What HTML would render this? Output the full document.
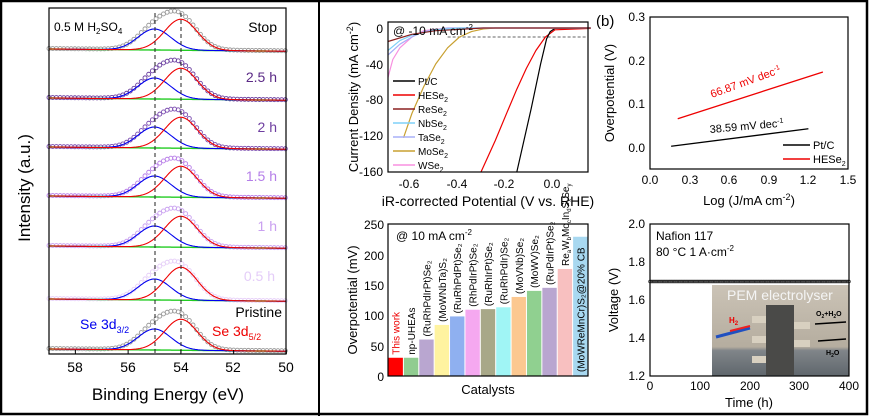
<!DOCTYPE html>
<html><head><meta charset="utf-8"><style>
html,body{margin:0;padding:0;background:#fff}
svg{display:block;font-family:"Liberation Sans",Arial,sans-serif}
</style></head><body>
<svg id="s" width="869" height="416" viewBox="0 0 869 416" xmlns="http://www.w3.org/2000/svg">
<rect x="1" y="1" width="866" height="413" fill="#fff" stroke="#000" stroke-width="2.5"/>
<line x1="319" y1="0" x2="319" y2="416" stroke="#000" stroke-width="2"/>

<g id="pa"></g>
<rect x="49" y="8" width="237" height="346" fill="none" stroke="#000" stroke-width="1.2"/>
<g font-size="13" fill="#000">
<text x="54" y="31" font-size="12">0.5 M H<tspan font-size="8" dy="3">2</tspan><tspan dy="-3">SO</tspan><tspan font-size="8" dy="3">4</tspan></text>
<text x="277" y="32" text-anchor="end" font-size="14">Stop</text>
<text x="277" y="82" text-anchor="end" font-size="14" fill="#5b2a86">2.5 h</text>
<text x="277" y="132" text-anchor="end" font-size="14" fill="#6e3ea0">2 h</text>
<text x="277" y="181" text-anchor="end" font-size="14" fill="#b47ee8">1.5 h</text>
<text x="277" y="231" text-anchor="end" font-size="14" fill="#c9a0f0">1 h</text>
<text x="275" y="281" text-anchor="end" font-size="14" fill="#e4cdf8">0.5 h</text>
<text x="282" y="317" text-anchor="end" font-size="14">Pristine</text>
<text x="80" y="329" font-size="14" fill="#0000ee">Se 3d<tspan font-size="9" dy="4">3/2</tspan></text>
<text x="212" y="336" font-size="14" fill="#ee0000">Se 3d<tspan font-size="9" dy="4">5/2</tspan></text>
<text x="75" y="372" text-anchor="middle" font-size="14">58</text>
<text x="128" y="372" text-anchor="middle" font-size="14">56</text>
<text x="181" y="372" text-anchor="middle" font-size="14">54</text>
<text x="233" y="372" text-anchor="middle" font-size="14">52</text>
<text x="286" y="372" text-anchor="middle" font-size="14">50</text>
<text x="168" y="400" text-anchor="middle" font-size="17">Binding Energy (eV)</text>
<text transform="translate(30,188) rotate(-90)" text-anchor="middle" font-size="17">Intensity (a.u.)</text>
</g>

<g id="pb"></g>
<rect x="388" y="22" width="200" height="150" fill="none" stroke="#000" stroke-width="1.2"/>
<g font-size="12" fill="#000">
<text x="393" y="35" font-size="12">@ -10 mA cm<tspan font-size="8" dy="-5">-2</tspan></text>
<text x="383" y="33" text-anchor="end">0</text>
<text x="383" y="69" text-anchor="end">-40</text>
<text x="383" y="104" text-anchor="end">-80</text>
<text x="383" y="140" text-anchor="end">-120</text>
<text x="383" y="176" text-anchor="end">-160</text>
<text x="409" y="188" text-anchor="middle">-0.6</text>
<text x="457" y="188" text-anchor="middle">-0.4</text>
<text x="504" y="188" text-anchor="middle">-0.2</text>
<text x="552" y="188" text-anchor="middle">0.0</text>
<text x="488" y="206" text-anchor="middle" font-size="14">iR-corrected Potential (V vs. RHE)</text>
<text transform="translate(358,97) rotate(-90)" text-anchor="middle" font-size="13">Current Density (mA cm<tspan font-size="9" dy="-5">-2</tspan><tspan dy="5">)</tspan></text>
<g font-size="10">
<text x="418" y="85">Pt/C</text>
<text x="418" y="99">HESe<tspan font-size="7" dy="3">2</tspan></text>
<text x="418" y="113">ReSe<tspan font-size="7" dy="3">2</tspan></text>
<text x="418" y="127">NbSe<tspan font-size="7" dy="3">2</tspan></text>
<text x="418" y="141">TaSe<tspan font-size="7" dy="3">2</tspan></text>
<text x="418" y="155">MoSe<tspan font-size="7" dy="3">2</tspan></text>
<text x="418" y="169">WSe<tspan font-size="7" dy="3">2</tspan></text>
</g>
</g>

<g id="pc"></g>
<rect x="388" y="224" width="200" height="152" fill="none" stroke="#000" stroke-width="1.2"/>
<g font-size="12" fill="#000">
<text x="396" y="240">@ 10 mA cm<tspan font-size="8" dy="-5">-2</tspan></text>
<text x="384" y="229" text-anchor="end">250</text>
<text x="384" y="260" text-anchor="end">200</text>
<text x="384" y="290" text-anchor="end">150</text>
<text x="384" y="320" text-anchor="end">100</text>
<text x="384" y="351" text-anchor="end">50</text>
<text x="384" y="381" text-anchor="end">0</text>
<text x="488" y="394" text-anchor="middle" font-size="13">Catalysts</text>
<text transform="translate(357,300) rotate(-90)" text-anchor="middle" font-size="13">Overpotential (mV)</text>
<g id="bl" font-size="10"></g>
<text id="relab" font-size="10">Re<tspan font-size="6" dy="2">a</tspan><tspan dy="-2">W</tspan><tspan font-size="6" dy="2">b</tspan><tspan dy="-2">Mo</tspan><tspan font-size="6" dy="2">c</tspan><tspan dy="-2">In</tspan><tspan font-size="6" dy="2">d</tspan><tspan dy="-2">S</tspan><tspan font-size="6" dy="2">x</tspan><tspan dy="-2">Se</tspan><tspan font-size="6" dy="2">y</tspan></text>
</g>

<rect x="650" y="17" width="198" height="152" fill="none" stroke="#000" stroke-width="1.2"/>
<g id="pd"></g>
<g font-size="12" fill="#000">
<text x="596" y="26" font-size="15">(b)</text>
<text x="645" y="21" text-anchor="end">0.3</text>
<text x="645" y="65" text-anchor="end">0.2</text>
<text x="645" y="108" text-anchor="end">0.1</text>
<text x="645" y="152" text-anchor="end">0.0</text>
<text x="650" y="184" text-anchor="middle">0.0</text>
<text x="690" y="184" text-anchor="middle">0.3</text>
<text x="729" y="184" text-anchor="middle">0.6</text>
<text x="769" y="184" text-anchor="middle">0.9</text>
<text x="808" y="184" text-anchor="middle">1.2</text>
<text x="848" y="184" text-anchor="middle">1.5</text>
<text x="749" y="205" text-anchor="middle" font-size="13">Log (J/mA cm<tspan font-size="9" dy="-5">-2</tspan><tspan dy="5">)</tspan></text>
<text transform="translate(614,93) rotate(-90)" text-anchor="middle" font-size="13">Overpotential (V)</text>
<text transform="translate(712,98) rotate(-20)" font-size="11" fill="#ee0000">66.87 mV dec<tspan font-size="7" dy="-4">-1</tspan></text>
<text transform="translate(710,133) rotate(-5)" font-size="11">38.59 mV dec<tspan font-size="7" dy="-4">-1</tspan></text>
<line x1="783" y1="145" x2="810" y2="145" stroke="#000" stroke-width="1.5"/>
<line x1="783" y1="159" x2="810" y2="159" stroke="#ee0000" stroke-width="1.5"/>
<text x="813" y="149" font-size="11">Pt/C</text>
<text x="813" y="163" font-size="11">HESe<tspan font-size="7" dy="3">2</tspan></text>
</g>

<defs>
<linearGradient id="ph" x1="0" y1="0" x2="0" y2="1">
<stop offset="0" stop-color="#cbc3b6"/><stop offset="0.68" stop-color="#b5ad9f"/><stop offset="0.72" stop-color="#808589"/><stop offset="1" stop-color="#5f666c"/>
</linearGradient>
</defs>
<rect x="712" y="285" width="137" height="91" fill="url(#ph)"/>
<rect x="766" y="305" width="28" height="70" fill="#4a4a48"/>
<rect x="752" y="316" width="14" height="7" fill="#d8d0c0"/><rect x="752" y="336" width="14" height="7" fill="#d8d0c0"/><rect x="752" y="356" width="14" height="7" fill="#d8d0c0"/>
<rect x="794" y="322" width="16" height="7" fill="#d8d0c0"/><rect x="794" y="340" width="16" height="7" fill="#d8d0c0"/>
<line x1="750" y1="328" x2="716" y2="337" stroke="#2050c0" stroke-width="3"/>
<line x1="750" y1="326" x2="730" y2="331" stroke="#ee2020" stroke-width="2"/>
<line x1="815" y1="324" x2="846" y2="322" stroke="#000" stroke-width="1.5"/>
<line x1="846" y1="339" x2="818" y2="341" stroke="#000" stroke-width="1.5"/>
<text x="727" y="300" font-size="14" fill="#f4f4f4">PEM electrolyser</text>
<text x="729" y="323" font-size="8" fill="#ee0000" font-weight="bold">H<tspan font-size="6" dy="2">2</tspan></text>
<text x="816" y="316" font-size="7" fill="#000" font-weight="bold">O<tspan font-size="5" dy="2">2</tspan><tspan dy="-2">+H</tspan><tspan font-size="5" dy="2">2</tspan><tspan dy="-2">O</tspan></text>
<text x="826" y="355" font-size="7" fill="#000" font-weight="bold">H<tspan font-size="5" dy="2">2</tspan><tspan dy="-2">O</tspan></text>
<g id="pe"></g>
<rect x="650" y="224" width="199" height="152" fill="none" stroke="#000" stroke-width="1.2"/>
<g font-size="12" fill="#000">
<text x="656" y="240" font-size="12">Nafion 117</text>
<text x="656" y="256" font-size="12">80 °C    1 A·cm<tspan font-size="8" dy="-5">-2</tspan></text>
<text x="645" y="228" text-anchor="end">2.0</text>
<text x="645" y="266" text-anchor="end">1.8</text>
<text x="645" y="304" text-anchor="end">1.6</text>
<text x="645" y="342" text-anchor="end">1.4</text>
<text x="645" y="380" text-anchor="end">1.2</text>
<text x="650" y="390" text-anchor="middle">0</text>
<text x="700" y="390" text-anchor="middle">100</text>
<text x="750" y="390" text-anchor="middle">200</text>
<text x="799" y="390" text-anchor="middle">300</text>
<text x="849" y="390" text-anchor="middle">400</text>
<text x="749" y="407" text-anchor="middle" font-size="13">Time (h)</text>
<text transform="translate(618,300) rotate(-90)" text-anchor="middle" font-size="13">Voltage (V)</text>
</g>
</svg>
<script>
var NS="http://www.w3.org/2000/svg";
function el(p,t,a){var e=document.createElementNS(NS,t);for(var k in a)e.setAttribute(k,a[k]);document.getElementById(p).appendChild(e);return e;}
function X(e){return 49+(59-e)*26.375;}
var bases=[50,99,148,197,247,300,350];
var mc=["#9a9a9a","#6b3fa0","#7b4cb0","#b87ee8","#c9a0f0","#e6cff8","#9a9a9a"];
var S=0.62;
function g(e,c,s){return Math.exp(-(e-c)*(e-c)/(2*s*s));}
for(var i=0;i<7;i++){
 var b=bases[i],ra=(i==5?33:31);
 var pb="",pr="",pg="";
 for(var e=59;e>=50;e-=0.05){
  var yb=b+(59-e)*0.25-1;
  var x=X(e).toFixed(1);
  pg+=(pg?"L":"M")+x+","+yb.toFixed(1);
  pb+=(pb?"L":"M")+x+","+(yb-21*g(e,55,S)).toFixed(1);
  pr+=(pr?"L":"M")+x+","+(yb-ra*g(e,54,S)).toFixed(1);
 }
 for(var e=59;e>=50;e-=0.14){
  var yb=b+(59-e)*0.25-1;
  var y=yb-21*g(e,55,S)-ra*g(e,54,S)-(i==5?1:0)*0;
  if(i==5) y=yb-21*g(e,55,S)-31*g(e,54,S);
  el("pa","circle",{cx:X(e),cy:y-0.5,r:2,fill:"none",stroke:mc[i],"stroke-width":0.9});
 }
 el("pa","path",{d:pg,fill:"none",stroke:"#22cc22","stroke-width":1.4});
 el("pa","path",{d:pb,fill:"none",stroke:"#0000ee","stroke-width":1.1});
 el("pa","path",{d:pr,fill:"none",stroke:"#ee0000","stroke-width":1.1});
}
el("pa","line",{x1:155,y1:13,x2:155,y2:354,stroke:"#222","stroke-dasharray":"4,3","stroke-width":1});
el("pa","line",{x1:181,y1:13,x2:181,y2:354,stroke:"#222","stroke-dasharray":"4,3","stroke-width":1});
for(var e=58;e>=50;e-=2){el("pa","line",{x1:X(e),y1:354,x2:X(e),y2:350,stroke:"#000"});}
function BX(v){return 388+(v+0.7)*238.5;}function BY(j){return 28-j*0.9;}
el("pb","line",{x1:BX(-0.45),y1:BY(-10),x2:588,y2:BY(-10),stroke:"#333","stroke-dasharray":"3,2","stroke-width":0.8});
var cur=[
["#ee0000",[[0.15,-0.5],[0,-2],[-0.04,-10],[-0.08,-25],[-0.12,-45],[-0.16,-68],[-0.2,-93],[-0.25,-125],[-0.31,-160]]],
["#000",[[0.15,0],[0,-0.5],[-0.02,-4],[-0.035,-12],[-0.06,-40],[-0.1,-90],[-0.16,-160]]],
["#c8a030",[[0.15,0],[-0.25,0],[-0.3,-1],[-0.35,-4],[-0.4,-10],[-0.45,-22],[-0.5,-40],[-0.55,-65],[-0.6,-95],[-0.635,-122]]],
["#f890e0",[[0.15,0],[-0.45,0],[-0.55,-3],[-0.6,-10],[-0.65,-22],[-0.68,-35],[-0.7,-55]]],
["#a8b0f8",[[0.15,0],[-0.45,0],[-0.55,-4],[-0.6,-10],[-0.65,-18],[-0.7,-30]]],
["#7fd0f8",[[0.15,0],[-0.4,0],[-0.5,-2],[-0.6,-8],[-0.65,-14],[-0.7,-25]]],
["#8b2020",[[0.15,0],[-0.3,0],[-0.5,-3],[-0.6,-7],[-0.7,-15]]]];
cur.forEach(function(c){var d="";c[1].forEach(function(p){d+=(d?"L":"M")+BX(p[0]).toFixed(1)+","+BY(p[1]).toFixed(1);});
 el("pb","path",{d:d,fill:"none",stroke:c[0],"stroke-width":1.2,"stroke-linejoin":"round"});});
var lc=["#000","#ee0000","#8b2020","#7fd0f8","#a8b0f8","#c8a030","#f890e0"];
lc.forEach(function(c,i){el("pb","line",{x1:393,y1:81+i*14,x2:415,y2:81+i*14,stroke:c,"stroke-width":1.5});});
var vals=[30,30,60,84,98,109,110,113,130,140,145,176,229];
var cols=["#ff0000","#90cc90","#b9a6d0","#fff3a0","#8fb0f0","#f5a8f0","#a8a888","#a0f5f5","#fcc890","#90d090","#b9a6d0","#f8c0c0","#a8d8f0"];
var labs=["This work","np-UHEAs","(RuRhPdIrPt)Se₂","(MoWNbTa)S₂","(RuRhPdPt)Se₂","(RhPdIrPt)Se₂","(RuRhIrPt)Se₂","(RuRhPdIr)Se₂","(MoVNb)Se₂","(MoWV)Se₂","(RuPdIrPt)Se₂","","(MoWReMnCr)S₂@20% CB"];
var bw=200/13;
vals.forEach(function(v,i){var x=388+i*bw,h=v*0.608;
 el("pc","rect",{x:x+0.5,y:376-h,width:bw-1,height:h,fill:cols[i]});
 var tr="translate("+(x+bw/2+4)+","+(i==12?372:376-h-3)+") rotate(-90)";
 if(i==11){document.getElementById("relab").setAttribute("transform",tr);return;}
 var t=el("bl","text",{transform:tr,fill:i==0?"#ee0000":"#000"});
 t.textContent=labs[i];});
function DX(v){return 650+v*132;}function DY(v){return 148-v*436.7;}
el("pd","line",{x1:DX(0.16),y1:DY(0.004),x2:DX(1.2),y2:DY(0.044),stroke:"#000","stroke-width":1.3});
el("pd","line",{x1:DX(0.21),y1:DY(0.067),x2:DX(1.31),y2:DY(0.174),stroke:"#ee0000","stroke-width":1.3});
for(var t=0;t<=400;t+=2.5){el("pe","circle",{cx:650+t*0.4975,cy:281.5,r:1.4,fill:"none",stroke:"#333","stroke-width":0.7});}
el("pe","line",{x1:650,y1:281,x2:849,y2:281,stroke:"#222","stroke-width":1});
</script>
</body></html>
